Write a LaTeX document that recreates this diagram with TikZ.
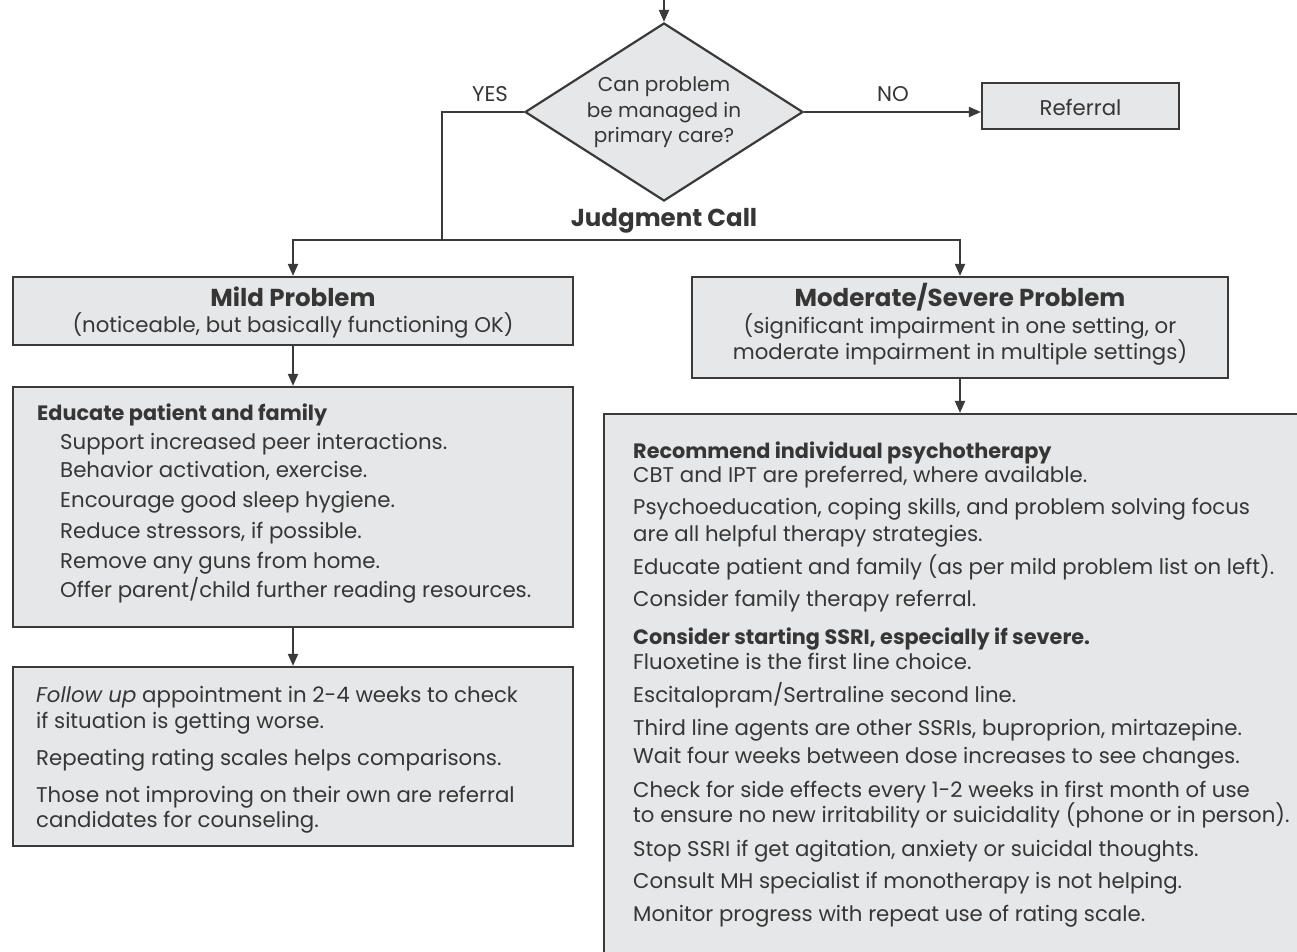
\documentclass[tikz,border=0pt]{standalone}
\usepackage{fontspec}
\setmainfont{Poppins}
\usetikzlibrary{arrows.meta,shapes.geometric}
\definecolor{boxfill}{HTML}{E6E7E8}
\definecolor{edge}{HTML}{3A3A3A}
\definecolor{ink}{HTML}{363636}
\begin{document}
\begin{tikzpicture}[x=1pt,y=-1pt,
  box/.style={draw=edge, fill=boxfill, line width=2.2pt, inner sep=0pt},
  conn/.style={draw=edge, line width=2pt, -{Triangle[length=12pt,width=10pt]}},
  plain/.style={draw=edge, line width=2pt},
  txt/.style={inner sep=0pt, text=ink, font=\fontsize{21.3}{25}\selectfont, text height=19.5pt, text depth=4.8pt},
  lt/.style={txt, anchor=west},
  hd/.style={lt, font=\fontsize{20.8}{25}\selectfont\bfseries},
  dtx/.style={txt, font=\fontsize{20}{24}\selectfont},
  ttl/.style={txt, font=\fontsize{24.5}{28}\selectfont\bfseries, text height=21.5pt, text depth=5.5pt}
]
\useasboundingbox (0,0) rectangle (1297,952);
\fill[white] (0,0) rectangle (1297,952);
\begin{scope}
\clip (0,0) rectangle (1297,952);

% decision
\node[box, diamond, minimum width=278pt, minimum height=178pt] (dia) at (664,112) {};
\node[dtx] (d1) at (664,84) {Can problem};
\node[dtx] (d2) at (664,110) {be managed in};
\node[dtx] (d3) at (664,135) {primary care?};
\node[txt] (yes) at (490,94) {YES};
\node[txt] (no) at (893,94) {NO};
\node[ttl] (judge) at (664,218) {Judgment Call};

% referral
\node[box, minimum width=197pt, minimum height=46pt] (ref) at (1080.5,106) {};
\node[txt] (reft) at (1080.5,108) {Referral};

% mild
\node[box, minimum width=560pt, minimum height=68pt] (mild) at (293,311) {};
\node[ttl] (mildt) at (293,298) {Mild Problem};
\node[txt] (milds) at (293,325) {(noticeable, but basically functioning OK)};

% educate
\node[box, minimum width=560pt, minimum height=240pt] (edu) at (293,507) {};
\node[hd] (e0) at (37,413) {Educate patient and family};
\node[lt] (e1) at (60,442) {Support increased peer interactions.};
\node[lt] (e2) at (60,470) {Behavior activation, exercise.};
\node[lt] (e3) at (60,500) {Encourage good sleep hygiene.};
\node[lt] (e4) at (60,531) {Reduce stressors, if possible.};
\node[lt] (e5) at (60,561) {Remove any guns from home.};
\node[lt] (e6) at (60,590) {Offer parent/child further reading resources.};

% follow up
\node[box, minimum width=560pt, minimum height=179pt] (fol) at (293,756.5) {};
\node[lt] (f1) at (36,695) {\itshape Follow up\upshape{} appointment in 2-4 weeks to check};
\node[lt] (f2) at (36,721) {if situation is getting worse.};
\node[lt] (f3) at (36,758) {Repeating rating scales helps comparisons.};
\node[lt] (f4) at (36,795) {Those not improving on their own are referral};
\node[lt] (f5) at (36,820) {candidates for counseling.};

% moderate
\node[box, minimum width=536pt, minimum height=101pt] (mod) at (960,327.5) {};
\node[ttl] (modt) at (960,298) {Moderate/Severe Problem};
\node[txt] (mods1) at (960,326) {(significant impairment in one setting, or};
\node[txt] (mods2) at (960,352) {moderate impairment in multiple settings)};

% big box
\node[box, minimum width=716pt, minimum height=566pt] (big) at (962,697) {};
\node[hd] (r0) at (633,451) {Recommend individual psychotherapy};
\node[lt] (r1) at (633,475) {CBT and IPT are preferred, where available.};
\node[lt] (r2) at (633,507) {Psychoeducation, coping skills, and problem solving focus};
\node[lt] (r3) at (633,534) {are all helpful therapy strategies.};
\node[lt] (r4) at (633,567) {Educate patient and family (as per mild problem list on left).};
\node[lt] (r5) at (633,599) {Consider family therapy referral.};
\node[hd] (s0) at (633,637) {Consider starting SSRI, especially if severe.};
\node[lt] (s1) at (633,662) {Fluoxetine is the first line choice.};
\node[lt] (s2) at (633,695) {Escitalopram/Sertraline second line.};
\node[lt] (s3) at (633,728) {Third line agents are other SSRIs, buproprion, mirtazepine.};
\node[lt] (s4) at (633,756) {Wait four weeks between dose increases to see changes.};
\node[lt] (s5) at (633,790) {Check for side effects every 1-2 weeks in first month of use};
\node[lt] (s6) at (633,815) {to ensure no new irritability or suicidality (phone or in person).};
\node[lt] (s7) at (633,849) {Stop SSRI if get agitation, anxiety or suicidal thoughts.};
\node[lt] (s8) at (633,881) {Consult MH specialist if monotherapy is not helping.};
\node[lt] (s9) at (633,914) {Monitor progress with repeat use of rating scale.};

% connectors
\coordinate (topin) at (664,-5);
\coordinate (jn) at (442,240);
\draw[conn] (topin) -- (dia.north);
\draw[plain] (dia.west) -| (jn);
\draw[conn] (jn) -| (mild.north);
\draw[conn] (jn) -| (mod.north);
\draw[conn] (dia.east) -- (dia.east -| ref.west);
\draw[conn] (mild.south) -- (edu.north);
\draw[conn] (edu.south) -- (fol.north);
\draw[conn] (mod.south) -- (mod.south |- big.north);
\end{scope}
\end{tikzpicture}
\end{document}
